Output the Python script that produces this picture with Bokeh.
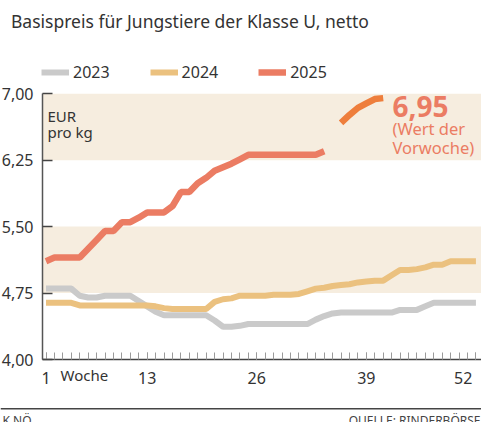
from bokeh.plotting import figure
from bokeh.models import (Range1d, LinearAxis, FixedTicker, CustomJSTickFormatter,
                          BoxAnnotation, Label, Legend, LegendItem, ColumnDataSource, Span)
from bokeh.embed import file_html
from bokeh.resources import INLINE

# ---------------- data ----------------
title_text = "Basispreis für Jungstiere der Klasse U, netto"
series_names = ["2023", "2024", "2025"]
weeks = list(range(1, 53))

price_2023 = [4.80, 4.80, 4.80, 4.80, 4.72, 4.70, 4.70, 4.72, 4.72, 4.72,
              4.72, 4.66, 4.60, 4.54, 4.50, 4.50, 4.50, 4.50, 4.50, 4.50,
              4.44, 4.37, 4.37, 4.38, 4.40, 4.40, 4.40, 4.40, 4.40, 4.40,
              4.40, 4.40, 4.45, 4.49, 4.52, 4.53, 4.53, 4.53, 4.53, 4.53,
              4.53, 4.53, 4.56, 4.56, 4.56, 4.60, 4.64, 4.64, 4.64, 4.64,
              4.64, 4.64]

price_2024 = [4.64, 4.64, 4.64, 4.64, 4.61, 4.61, 4.61, 4.61, 4.61, 4.61,
              4.61, 4.61, 4.61, 4.60, 4.58, 4.57, 4.57, 4.57, 4.57, 4.57,
              4.65, 4.68, 4.69, 4.72, 4.72, 4.72, 4.72, 4.73, 4.73, 4.73,
              4.74, 4.77, 4.80, 4.81, 4.83, 4.84, 4.85, 4.87, 4.88, 4.89,
              4.89, 4.95, 5.01, 5.01, 5.02, 5.04, 5.07, 5.07, 5.11, 5.11,
              5.11, 5.11]

weeks_2025 = list(range(1, 35))
price_2025 = [5.11, 5.15, 5.15, 5.15, 5.15, 5.25, 5.35, 5.45, 5.45, 5.55,
              5.55, 5.60, 5.66, 5.66, 5.66, 5.73, 5.89, 5.89, 5.99, 6.05,
              6.13, 6.17, 6.21, 6.26, 6.31, 6.31, 6.31, 6.31, 6.31, 6.31,
              6.31, 6.31, 6.31, 6.35]

weeks_2025_recent = [36, 37, 38, 39, 40, 41]
price_2025_recent = [6.67, 6.76, 6.84, 6.89, 6.94, 6.95]

latest_value_text = "6,95"
latest_note_lines = ["(Wert der", "Vorwoche)"]
unit_lines = ["EUR", "pro kg"]
x_axis_name = "Woche"

x_ticks = [1, 13, 26, 39, 52]
x_tick_labels = ["1", "13", "26", "39", "52"]
y_ticks = [4.00, 4.75, 5.50, 6.25, 7.00]
y_tick_labels = ["4,00", "4,75", "5,50", "6,25", "7,00"]
band_ranges = [(4.75, 5.50), (6.25, 7.00)]

source_left = "K NÖ"
source_right = "QUELLE: RINDERBÖRSE"

# ---------------- style ----------------
FONT = "Noto Sans"
TEXT = "#333333"
GRAY = "#CACACA"
YELLOW = "#EBC17F"
RED = "#EB7C63"
ORANGE = "#EE7E3C"
BAND = "#F6EDDF"

W, H = 481, 422
AXIS_X_PX, AXIS_Y_PX = 42, 359      # pixel position of the y axis line / x axis line
PX_PER_WEEK = 8.43
PX_PER_EUR = 88.6
WEEK1_PX = 45.5


def xd(px):
    return 1 + (px - WEEK1_PX) / PX_PER_WEEK


def yd(py):
    return y_ticks[0] + (AXIS_Y_PX - py) / PX_PER_EUR


p = figure(width=W, height=H, x_range=Range1d(xd(0), xd(W)), y_range=Range1d(yd(H), yd(0)),
           output_backend="svg", toolbar_location=None, x_axis_type=None, y_axis_type=None,
           min_border=0)
p.outline_line_color = None
p.background_fill_color = "white"
p.border_fill_color = "white"

for lo, hi in band_ranges:
    p.add_layout(BoxAnnotation(bottom=lo, top=hi, left=xd(AXIS_X_PX), fill_color=BAND,
                               fill_alpha=1.0, line_color=None, level="underlay"))

fmt_code = """
let best = 0;
for (let i = 0; i < tick_vals.length; i++) {
  if (Math.abs(tick_vals[i] - tick) < Math.abs(tick_vals[best] - tick)) best = i;
}
return tick_texts[best] + ((pad_last && best == tick_vals.length - 1) ? '\\u2007' : '');
"""

yaxis = LinearAxis(ticker=FixedTicker(ticks=y_ticks),
                   formatter=CustomJSTickFormatter(args=dict(tick_vals=y_ticks, tick_texts=y_tick_labels, pad_last=False), code=fmt_code),
                   bounds=(y_ticks[0], y_ticks[-1]), fixed_location=xd(AXIS_X_PX))
yaxis.major_tick_in = 10
yaxis.major_tick_out = 0
yaxis.minor_tick_in = 0
yaxis.minor_tick_out = 0
yaxis.axis_line_color = "#555555"
yaxis.axis_line_width = 1.5
yaxis.major_tick_line_color = "#444444"
yaxis.major_tick_line_width = 1.5
yaxis.major_label_text_font = FONT
yaxis.major_label_text_font_size = "16px"
yaxis.major_label_text_color = TEXT
yaxis.major_label_standoff = 9
p.add_layout(yaxis, "left")

xaxis = LinearAxis(ticker=FixedTicker(ticks=x_ticks, minor_ticks=weeks),
                   formatter=CustomJSTickFormatter(args=dict(tick_vals=x_ticks, tick_texts=x_tick_labels, pad_last=True), code=fmt_code),
                   bounds=(xd(AXIS_X_PX), xd(W)), fixed_location=y_ticks[0])
xaxis.major_tick_in = 7
xaxis.major_tick_out = 0
xaxis.minor_tick_in = 7
xaxis.minor_tick_out = 0
xaxis.major_tick_line_color = "#9A9A9A"
xaxis.minor_tick_line_color = "#9A9A9A"
xaxis.axis_line_color = "#444444"
xaxis.axis_line_width = 1.5
xaxis.major_label_text_font = FONT
xaxis.major_label_text_font_size = "16px"
xaxis.major_label_text_color = TEXT
xaxis.major_label_standoff = 7
p.add_layout(xaxis, "below")

src23 = ColumnDataSource(dict(week=weeks, price=price_2023))
src24 = ColumnDataSource(dict(week=weeks, price=price_2024))
src25 = ColumnDataSource(dict(week=weeks_2025, price=price_2025))
src25b = ColumnDataSource(dict(week=weeks_2025_recent, price=price_2025_recent))

r23 = p.line("week", "price", source=src23, line_color=GRAY, line_width=6)
r24 = p.line("week", "price", source=src24, line_color=YELLOW, line_width=6)
r25 = p.line("week", "price", source=src25, line_color=RED, line_width=6.5)
p.line("week", "price", source=src25b, line_color=ORANGE, line_width=6.5)

legend = Legend(items=[LegendItem(label=n, renderers=[r]) for n, r in zip(series_names, [r23, r24, r25])],
                orientation="horizontal", location=(41, H - 83),
                padding=0, margin=0, spacing=40, glyph_width=28, glyph_height=20,
                label_height=20, label_standoff=4, border_line_color=None,
                background_fill_alpha=0.0, label_text_font=FONT,
                label_text_font_size="16px", label_text_color=TEXT)
p.add_layout(legend)

SHIFT = 7.5  # correction between requested baseline and rendered glyph position

p.add_layout(Label(x=xd(10.5), y=yd(28 - SHIFT), text=title_text, text_font=FONT,
                   text_font_size="17.5px", text_color=TEXT, text_baseline="alphabetic"))
for i, t in enumerate(unit_lines):
    p.add_layout(Label(x=xd(47), y=yd(123 + 16 * i - SHIFT), text=t, text_font=FONT,
                       text_font_size="15px", text_color=TEXT, text_baseline="alphabetic"))
p.add_layout(Label(x=xd(392), y=yd(113 - SHIFT), text=latest_value_text, text_font=FONT,
                   text_font_size="28px", text_font_style="bold", text_color=RED,
                   text_baseline="alphabetic"))
for i, t in enumerate(latest_note_lines):
    p.add_layout(Label(x=xd(392), y=yd(135 + 19 * i - SHIFT), text=t, text_font=FONT,
                       text_font_size="16.5px", text_color=RED, text_baseline="alphabetic"))
p.add_layout(Label(x=xd(60), y=yd(381.5 - SHIFT), text=x_axis_name, text_font=FONT,
                   text_font_size="15px", text_color=TEXT, text_baseline="alphabetic"))

# footer rule and source notes
p.add_layout(Span(location=yd(408.3), dimension="width", line_color="#444444", line_width=1.5))
p.add_layout(Label(x=xd(2), y=yd(411), text=source_left, text_font=FONT, text_font_size="12px",
                   text_color="#444444", text_baseline="top"))
p.add_layout(Label(x=xd(W - 1), y=yd(411), text=source_right, text_font=FONT, text_font_size="12px",
                   text_color="#444444", text_baseline="top", text_align="right"))

open("out.html", "w").write(file_html(p, INLINE))
